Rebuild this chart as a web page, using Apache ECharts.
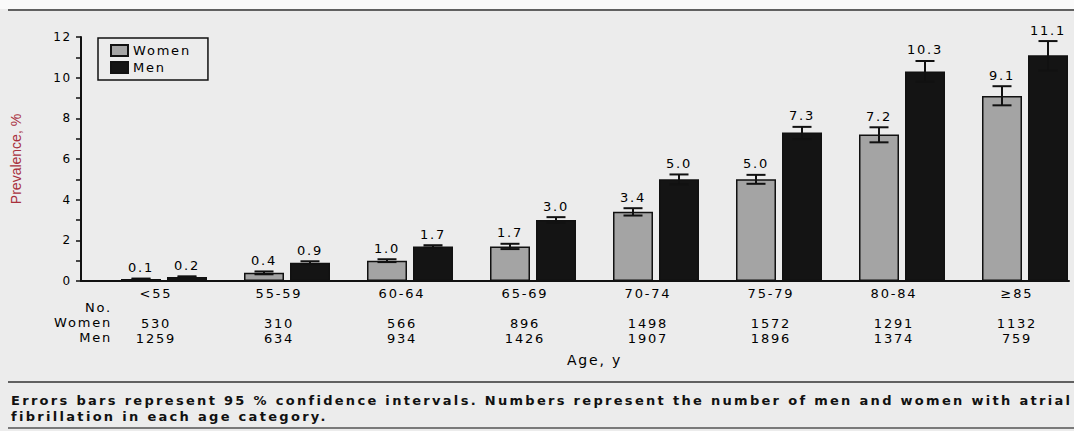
<!DOCTYPE html>
<html>
<head>
<meta charset="utf-8">
<script src="https://cdn.jsdelivr.net/npm/echarts@6/dist/echarts.min.js"></script>
<style>
html,body{margin:0;padding:0;background:#ececec;}
#chart{width:1074px;height:431px;}
#chart text{letter-spacing:1.8px;}
#chart text[style*="Narrow"]{letter-spacing:0;}
#chart text[style*="sans-serif"]{letter-spacing:2.3px;}
</style>
</head>
<body>
<div id="chart"></div>
<script>
var categories = ['<55', '55-59', '60-64', '65-69', '70-74', '75-79', '80-84', '\u226585'];
var womenPrev = [0.1, 0.4, 1.0, 1.7, 3.4, 5.0, 7.2, 9.1];
var menPrev = [0.2, 0.9, 1.7, 3.0, 5.0, 7.3, 10.3, 11.1];
var womenLow = [0.08, 0.33, 0.93, 1.57, 3.22, 4.78, 6.82, 8.64];
var womenHigh = [0.12, 0.47, 1.07, 1.83, 3.58, 5.22, 7.56, 9.58];
var menLow = [0.17, 0.83, 1.64, 2.86, 4.76, 6.98, 9.80, 10.35];
var menHigh = [0.23, 0.97, 1.76, 3.14, 5.24, 7.58, 10.82, 11.80];
var womenCount = [530, 310, 566, 896, 1498, 1572, 1291, 1132];
var menCount = [1259, 634, 934, 1426, 1907, 1896, 1374, 759];
var yTicks = [0, 2, 4, 6, 8, 10, 12];

var FONT = 'DejaVu Sans';
var BAR_W = 40, GAP_PX = 6;
var OFFSET = (BAR_W + GAP_PX) / 2;

function errData(lo, hi, v) {
  return categories.map(function (c, i) { return [i, lo[i], hi[i], v[i]]; });
}
function makeErr(sign) {
  return function (params, api) {
    var idx = api.value(0);
    var lo = api.coord([idx, api.value(1)]);
    var hi = api.coord([idx, api.value(2)]);
    var x = lo[0] + sign * OFFSET;
    var cap = 9.5;
    var ls = { stroke: '#111', lineWidth: 2 };
    return {
      type: 'group',
      children: [
        { type: 'line', shape: { x1: x, y1: lo[1], x2: x, y2: hi[1] }, style: ls },
        { type: 'line', shape: { x1: x - cap, y1: hi[1], x2: x + cap, y2: hi[1] }, style: ls },
        { type: 'line', shape: { x1: x - cap, y1: lo[1], x2: x + cap, y2: lo[1] }, style: ls },
        { type: 'text', style: { text: api.value(3).toFixed(1), x: x, y: hi[1] - 11,
            align: 'center', verticalAlign: 'middle', textAlign: 'center', textVerticalAlign: 'middle',
            fontSize: 13, fontFamily: FONT, fill: '#000' } }
      ]
    };
  };
}

var chart = echarts.init(document.getElementById('chart'), null, { renderer: 'svg' });
chart.setOption({
  backgroundColor: '#ececec',
  animation: false,
  title: [{
    text: 'Errors bars represent 95 % confidence intervals. Numbers represent the number of men and women with atrial\nfibrillation in each age category.',
    left: 6, top: 387,
    textStyle: { fontFamily: 'DejaVu Sans, sans-serif', fontSize: 13, fontWeight: 'bold', color: '#111', lineHeight: 16 }
  }],
  graphic: [
    { type: 'rect', shape: { x: 0, y: 0, width: 1074, height: 9 }, style: { fill: '#fafafa' }, silent: true },
    { type: 'line', shape: { x1: 8, y1: 10, x2: 1074, y2: 10 }, style: { stroke: '#333', lineWidth: 1.5 }, silent: true },
    { type: 'line', shape: { x1: 8, y1: 382, x2: 1074, y2: 382 }, style: { stroke: '#333', lineWidth: 1.5 }, silent: true },
    { type: 'line', shape: { x1: 8, y1: 428, x2: 1074, y2: 428 }, style: { stroke: '#555', lineWidth: 1.5 }, silent: true },
    { type: 'text', x: 112, y: 300, style: { text: 'No.\nWomen\nMen', align: 'right', textAlign: 'right',
        fontFamily: FONT, fontSize: 13, fill: '#000', lineHeight: 15 }, silent: true }
  ],
  legend: {
    data: ['Women', 'Men'],
    orient: 'vertical',
    left: 98, top: 38,
    padding: [6, 26, 6, 12],
    itemGap: 4,
    itemWidth: 17, itemHeight: 11,
    icon: 'rect',
    borderColor: '#111', borderWidth: 1.5,
    textStyle: { fontFamily: FONT, fontSize: 13, color: '#000' }
  },
  grid: [
    { left: 164, width: 861, top: 37, height: 244 },
    { left: 81, width: 988, top: 37, height: 244 }
  ],
  xAxis: [
    {
      type: 'category', gridIndex: 0, data: categories, boundaryGap: false,
      axisLine: { show: false }, axisTick: { show: false },
      axisLabel: {
        margin: 5, lineHeight: 15, fontFamily: FONT, fontSize: 13, color: '#000',
        padding: [0, 16, 0, 0],
        formatter: function (v, i) { return v + '\n\n' + womenCount[i] + '\n' + menCount[i]; }
      },
      name: 'Age, y', nameLocation: 'middle', nameGap: 72,
      nameTextStyle: { fontFamily: FONT, fontSize: 14, color: '#000' }
    },
    {
      type: 'value', gridIndex: 1, min: 0, max: 1,
      axisLine: { show: true, lineStyle: { color: '#111', width: 2 } },
      axisTick: { show: false }, axisLabel: { show: false }, splitLine: { show: false }
    }
  ],
  yAxis: [
    { type: 'value', gridIndex: 0, min: 0, max: 12, show: false },
    {
      type: 'value', gridIndex: 1, min: 0, max: 12, interval: 2,
      axisLine: { show: true, lineStyle: { color: '#111', width: 2 } },
      axisTick: { show: true, length: 5, lineStyle: { color: '#111', width: 1.5 } },
      minorTick: { show: true, splitNumber: 2, length: 5, lineStyle: { color: '#111', width: 1.5 } },
      axisLabel: { margin: 9, fontFamily: FONT, fontSize: 12, color: '#000',
        formatter: function (v) { return yTicks.indexOf(v) >= 0 ? String(v) : ''; } },
      splitLine: { show: false }, minorSplitLine: { show: false },
      name: 'Prevalence, %', nameLocation: 'middle', nameGap: 58,
      nameTextStyle: { fontFamily: 'Liberation Sans Narrow, Liberation Sans', fontSize: 14, color: '#a8303c' }
    }
  ],
  series: [
    { name: 'Women', type: 'bar', xAxisIndex: 0, yAxisIndex: 0, data: womenPrev,
      barWidth: BAR_W, barGap: (GAP_PX / BAR_W * 100) + '%',
      itemStyle: { color: '#a4a4a4', borderColor: '#111', borderWidth: 1.5 } },
    { name: 'Men', type: 'bar', xAxisIndex: 0, yAxisIndex: 0, data: menPrev,
      barWidth: BAR_W, barGap: (GAP_PX / BAR_W * 100) + '%',
      itemStyle: { color: '#141414', borderColor: '#111', borderWidth: 1.5 } },
    { name: 'Women CI', type: 'custom', xAxisIndex: 0, yAxisIndex: 0, z: 5,
      data: errData(womenLow, womenHigh, womenPrev), encode: { x: 0, y: [1, 2] },
      renderItem: makeErr(-1) },
    { name: 'Men CI', type: 'custom', xAxisIndex: 0, yAxisIndex: 0, z: 5,
      data: errData(menLow, menHigh, menPrev), encode: { x: 0, y: [1, 2] },
      renderItem: makeErr(1) }
  ]
});
</script>
</body>
</html>
